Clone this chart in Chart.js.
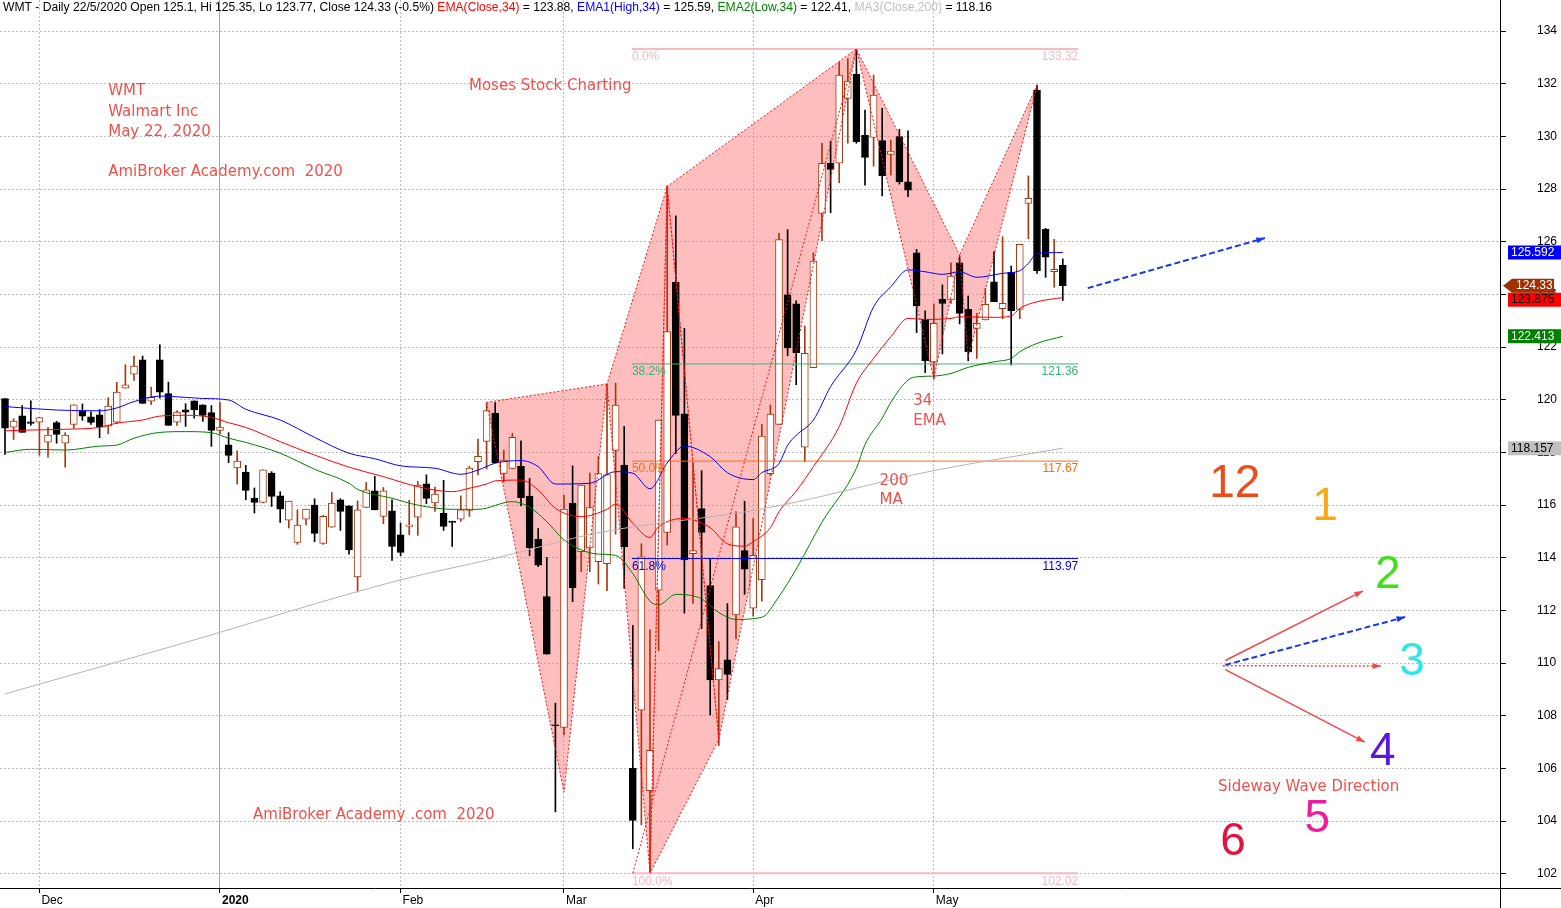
<!DOCTYPE html>
<html>
<head>
<meta charset="utf-8">
<script src="https://cdn.jsdelivr.net/npm/chart.js@4.4.1/dist/chart.umd.min.js"></script>
<style>
  html, body { margin: 0; padding: 0; background: #fff; overflow: hidden; }
</style>
</head>
<body>
<canvas id="wmtChart" width="1561" height="908"></canvas>
<script>
// WMT daily bars, 25 Nov 2019 .. 22 May 2020 (index 0 = first bar)
var opens = [120.04,118.96,119.39,119.16,119.15,118.39,119.13,118.35,119.06,119.58,
  119.35,119.43,119.00,119.15,120.44,120.97,121.52,119.95,121.52,120.23,
  119.15,119.62,119.96,119.81,119.51,118.84,118.29,117.41,117.25,116.27,
  116.10,117.22,116.35,115.43,114.58,115.47,116.00,114.54,115.16,116.20,
  115.97,113.27,115.91,116.54,115.57,115.78,114.87,115.19,115.54,116.81,
  116.08,115.70,115.39,115.47,115.80,117.65,118.42,119.49,117.20,117.39,
  117.47,116.34,114.71,112.53,107.66,107.56,116.08,114.23,114.37,113.85,
  113.78,118.08,117.52,106.00,108.21,105.16,112.77,114.96,124.46,119.47,
  114.16,115.87,112.94,109.36,110.12,111.83,114.27,112.09,113.17,117.19,
  119.06,123.98,123.64,118.20,121.22,127.08,128.98,128.98,131.44,132.37,
  130.05,129.96,129.84,129.32,129.99,128.28,125.58,123.05,121.44,123.81,
  123.79,125.20,123.43,122.71,123.03,124.48,123.46,124.84,123.43,127.46,
  131.76,126.47,124.86,125.10];
var highs = [120.04,119.28,119.78,119.96,119.32,118.94,119.18,118.75,119.81,119.84,
  119.54,119.63,120.08,120.66,121.33,121.66,121.66,120.48,122.09,120.67,
  119.59,119.85,119.96,119.81,119.78,119.89,118.75,118.06,117.51,116.65,
  117.34,117.27,116.51,116.15,115.82,115.85,116.24,115.61,116.48,116.24,
  115.97,116.16,116.86,117.09,116.67,116.20,115.32,116.18,116.90,117.15,
  116.68,116.94,115.39,116.35,117.47,118.51,119.87,119.89,118.09,118.73,
  118.44,117.01,115.11,114.01,108.48,116.38,117.49,116.76,117.22,117.85,
  120.59,120.63,118.99,111.43,114.53,111.26,119.23,128.12,126.98,122.71,
  117.58,117.31,113.95,110.82,112.26,115.75,116.15,115.49,119.06,119.80,
  126.32,126.46,123.76,122.80,125.58,129.74,129.82,132.83,132.96,133.32,
  131.00,132.33,131.07,129.86,130.27,130.21,125.71,123.38,123.64,124.36,
  125.20,125.43,123.94,123.28,124.23,125.62,126.19,125.08,125.90,128.50,
  131.95,126.51,126.09,125.35];
var lows = [117.92,118.49,118.76,119.03,117.89,117.82,118.35,117.44,118.92,119.22,
  119.06,118.56,118.71,119.09,120.44,120.73,119.86,119.82,120.06,119.03,
  119.03,118.99,119.30,119.18,118.23,118.71,117.61,116.80,116.20,115.70,
  116.08,115.95,115.34,115.13,114.51,115.25,114.61,114.51,115.16,115.04,
  114.14,112.70,115.91,115.82,115.29,113.90,114.08,114.87,114.85,116.05,
  115.76,115.04,114.43,115.38,115.57,117.15,117.37,117.61,116.89,117.37,
  115.97,114.08,113.66,110.34,104.35,107.27,112.33,113.47,113.47,113.00,
  112.75,114.90,112.84,102.95,103.86,102.08,110.47,114.48,117.96,111.90,
  112.27,111.31,108.03,106.87,108.61,110.92,112.61,111.79,112.35,117.14,
  119.06,121.67,120.57,117.65,121.22,126.04,127.10,128.24,129.74,129.74,
  128.15,128.87,127.74,128.53,128.19,127.71,122.55,121.03,120.78,121.74,
  123.66,122.88,121.48,121.57,123.03,123.72,123.08,121.32,123.08,126.11,
  124.80,124.65,124.27,123.77];
var closes = [118.92,119.19,118.76,119.10,119.32,118.66,118.68,118.66,119.81,119.38,
  119.14,118.97,119.76,120.29,120.57,121.28,119.86,120.09,120.29,119.03,
  119.53,119.53,119.61,119.41,118.84,118.96,117.89,117.67,116.56,116.10,
  117.34,116.33,115.85,116.15,115.24,115.85,114.92,115.57,116.08,115.76,
  114.30,115.82,116.58,115.82,116.54,114.43,114.20,115.25,116.76,116.25,
  116.42,115.19,115.34,115.82,117.41,117.85,119.59,117.61,117.71,118.57,
  116.28,114.38,113.72,110.34,107.62,115.85,112.86,116.76,115.91,117.20,
  117.16,119.80,114.42,104.03,114.04,106.69,119.23,122.59,119.41,113.92,
  114.27,114.96,109.36,109.79,109.57,115.17,113.57,114.09,118.62,119.46,
  126.08,121.97,121.79,121.76,125.27,128.98,128.75,132.33,132.10,129.80,
  129.20,131.57,128.50,129.44,128.28,127.96,123.56,121.48,122.90,123.66,
  124.70,123.28,121.82,122.90,123.62,123.72,123.66,123.38,125.90,127.65,
  124.90,125.41,124.95,124.33];

// month start bars and their axis labels
var monthIdx = [4, 25, 46, 65, 87, 108];
var monthLabels = ['Dec', '2020', 'Feb', 'Mar', 'Apr', 'May'];

// averages (bar index, value)
var emaHighIdx = [0,6,11,13,15,18,21,23,26,28,32,36,40,43,46,50,53,55,57,60,62,64,68,71,73,75,77,79,82,84,87,88,90,91,92,94,96,99,101,103,105,107,109,111,113,116,118,119,120,123];
var emaHighVals = [119.74,119.61,119.58,119.69,119.93,120.14,120.09,120.05,119.99,119.64,119.23,118.57,117.97,117.76,117.49,117.40,117.17,117.33,117.59,117.69,117.46,116.80,116.83,117.27,117.21,116.62,117.60,118.24,117.84,117.23,116.97,117.23,117.58,118.27,118.65,119.23,120.50,121.89,123.53,124.29,124.93,124.86,124.76,124.86,124.65,124.80,124.90,125.18,125.56,125.59];
var emaCloseIdx = [0,3,7,11,13,16,18,21,24,26,28,32,36,40,44,48,52,54,56,57,60,62,64,67,70,71,73,75,76,79,82,84,86,87,89,90,92,94,97,99,101,103,105,107,110,111,115,117,118,120,123];
var emaCloseVals = [118.82,118.85,118.88,118.95,119.11,119.23,119.38,119.41,119.33,119.13,118.95,118.41,117.90,117.44,117.08,116.70,116.51,116.64,116.80,116.92,116.95,116.57,115.88,115.56,115.84,116.04,115.31,114.77,115.18,115.49,115.14,114.53,114.44,114.61,115.14,115.75,116.53,117.46,118.98,120.63,121.57,122.39,123.09,123.05,123.09,123.15,123.13,123.18,123.47,123.72,123.88];
var emaLowIdx = [0,3,7,11,13,15,18,21,24,26,28,32,36,40,41,45,48,52,55,59,61,63,65,67,69,71,73,75,76,78,81,83,85,88,90,92,95,99,100,102,103,105,106,108,110,112,115,117,118,120,123];
var emaLowVals = [118.00,118.12,118.09,118.24,118.28,118.54,118.76,118.79,118.75,118.54,118.38,117.97,117.36,116.83,116.60,116.26,116.00,115.84,115.84,116.13,115.92,115.37,114.68,114.30,114.14,114.09,113.40,112.35,112.21,112.61,112.44,111.92,111.66,111.74,112.53,113.57,115.35,117.40,118.30,119.30,119.90,120.75,120.87,120.90,121.00,121.23,121.44,121.57,121.82,122.14,122.41];
var ma200Idx = [0, 20, 46, 57, 69, 88, 108, 123];
var ma200Vals = [108.83, 110.69, 113.16, 113.98, 114.95, 115.85, 117.31, 118.16];

// fibonacci retracement
var fibLabels = ['0.0%', '38.2%', '50.0%', '61.8%', '100.0%'];
var fibValues = [133.32, 121.36, 117.67, 113.97, 102.02];
var fibFrom = 72.9, fibTo = 124.8;

// harmonic pattern triangles (bar index / price)
var triIdx = [[56, 65, 70], [70, 75, 77], [75, 77, 83], [77, 83, 99], [99, 108, 111], [111, 112, 120]];
var triVals = [[119.9, 105.1, 120.6], [120.6, 102.02, 128.1], [102.02, 128.1, 107.1], [128.1, 107.1, 133.32], [133.32, 120.8, 125.5], [125.5, 121.6, 131.95]];
var legIdx = [73, 99];
var legVals = [102.02, 133.32];

// last values shown on the price axis
var lastVals = [125.592, 124.33, 123.875, 122.413, 118.157];

var UP = '#a8380f';
var FONT = '"Liberation Sans", Arial, sans-serif';

function pts(idx, vals) {
    return idx.map(function(x, k) { return {x: x, y: vals[k]}; });
}

var wickData = lows.map(function(l, i) { return {x: i, y: [l, highs[i]]}; });
var bodyData = opens.map(function(o, i) { return {x: i, y: [o, closes[i]]}; });
var isUp = closes.map(function(c, i) { return c >= opens[i]; });

var datasets = [];

triIdx.forEach(function(idx, t) {
    var p = pts(idx, triVals[t]);
    p.push(p[0]);
    datasets.push({type: 'line', data: p, fill: 'shape', backgroundColor: 'rgba(255,110,110,0.45)',
        borderWidth: 0, pointRadius: 0, order: 20});
    datasets.push({type: 'line', data: p.slice(), fill: false, borderColor: '#ff1010', borderWidth: 1,
        borderDash: [2, 2], pointRadius: 0, order: 2});
});
datasets.push({type: 'line', data: pts(legIdx, legVals), fill: false, borderColor: '#ff1010',
    borderWidth: 1, borderDash: [2, 2], pointRadius: 0, order: 2});

datasets.push({type: 'bar', data: wickData, grouped: false, barThickness: 1, order: 7,
    backgroundColor: isUp.map(function(u) { return u ? UP : '#000'; })});
datasets.push({type: 'bar', data: bodyData, grouped: false, barThickness: 7, order: 6,
    minBarLength: 1, borderWidth: 1, borderSkipped: false,
    backgroundColor: isUp.map(function(u) { return u ? '#fff' : '#000'; }),
    borderColor: isUp.map(function(u) { return u ? UP : '#000'; })});

var fibColors = ['#f8b8c4', '#3cb371', '#ff6a10', '#0000e0', '#f8b8c4'];
fibValues.forEach(function(v, k) {
    datasets.push({type: 'line', data: [{x: fibFrom, y: v}, {x: fibTo, y: v}], fill: false,
        borderColor: fibColors[k], borderWidth: (k === 0 || k === 4) ? 2 : 1, pointRadius: 0, order: 4});
});

var avgLines = [
    [ma200Idx, ma200Vals, '#b4b4b4'],
    [emaLowIdx, emaLowVals, '#008000'],
    [emaCloseIdx, emaCloseVals, '#ff0000'],
    [emaHighIdx, emaHighVals, '#0000ff']
];
avgLines.forEach(function(a) {
    datasets.push({type: 'line', data: pts(a[0], a[1]), fill: false, borderColor: a[2], borderWidth: 1,
        pointRadius: 0, cubicInterpolationMode: 'monotone', order: 3});
});

var headerParts = [
    ['WMT - Daily 22/5/2020 Open 125.1, Hi 125.35, Lo 123.77, Close 124.33 (-0.5%) ', '#000'],
    ['EMA(Close,34)', '#ff0000'], [' = 123.88, ', '#000'],
    ['EMA1(High,34)', '#0000ff'], [' = 125.59, ', '#000'],
    ['EMA2(Low,34)', '#008000'], [' = 122.41, ', '#000'],
    ['MA3(Close,200)', '#c0c0c0'], [' = 118.16', '#000']
];

var notes = [
    ['WMT', 12, 131.72], ['Walmart Inc', 12, 130.92], ['May 22, 2020', 12, 130.17],
    ['AmiBroker Academy.com  2020', 12, 128.65], ['Moses Stock Charting', 53.95, 131.91],
    ['34', 105.6, 119.95], ['EMA', 105.6, 119.19], ['200', 101.7, 116.92], ['MA', 101.7, 116.19],
    ['AmiBroker Academy .com  2020', 28.84, 104.24], ['Sideway Wave Direction', 141.05, 105.3]
];
var clockNums = [
    ['12', 143.0, 116.8, '#f04a18'], ['1', 153.5, 115.93, '#f8a818'], ['2', 160.8, 113.35, '#40e018'],
    ['3', 163.6, 110.04, '#30e4ec'], ['4', 160.2, 106.63, '#5a18dc'], ['5', 152.6, 104.08, '#ec1c9c'],
    ['6', 142.8, 103.21, '#e41440']
];
var clockArrows = [
    [141.9, 110.1, 157.9, 112.74, '#f04848', 1.5, []],
    [141.9, 109.93, 162.8, 111.75, '#1a3ae0', 2, [6, 3]],
    [141.6, 109.9, 160.0, 109.89, '#f04848', 1.5, [2, 2]],
    [141.9, 109.75, 158.1, 107.0, '#f04848', 1.5, []]
];
var trendArrow = [125.9, 124.24, 146.5, 126.14];

function arrow(ctx, x1, y1, x2, y2, color, w, dash) {
    ctx.save();
    ctx.strokeStyle = color; ctx.fillStyle = color; ctx.lineWidth = w;
    ctx.setLineDash(dash);
    ctx.beginPath(); ctx.moveTo(x1, y1); ctx.lineTo(x2, y2); ctx.stroke();
    ctx.setLineDash([]);
    var a = Math.atan2(y2 - y1, x2 - x1);
    ctx.beginPath();
    ctx.moveTo(x2, y2);
    ctx.lineTo(x2 - 9 * Math.cos(a - 0.35), y2 - 9 * Math.sin(a - 0.35));
    ctx.lineTo(x2 - 9 * Math.cos(a + 0.35), y2 - 9 * Math.sin(a + 0.35));
    ctx.closePath(); ctx.fill();
    ctx.restore();
}

var overlay = {
    id: 'wmtOverlay',
    afterDraw: function(chart) {
        var ctx = chart.ctx, xs = chart.scales.x, ys = chart.scales.y;
        var px = function(i) { return xs.getPixelForValue(i); };
        var py = function(v) { return ys.getPixelForValue(v); };
        ctx.save();

        // axis lines run to the canvas edges
        ctx.strokeStyle = '#000'; ctx.lineWidth = 1;
        ctx.beginPath();
        ctx.moveTo(xs.right + 0.5, ys.bottom); ctx.lineTo(xs.right + 0.5, chart.height);
        ctx.moveTo(xs.right, ys.bottom + 0.5); ctx.lineTo(chart.width, ys.bottom + 0.5);
        ctx.stroke();

        // header
        ctx.font = '12px ' + FONT; ctx.textBaseline = 'middle'; ctx.textAlign = 'left';
        var full = headerParts.map(function(p) { return p[0]; }).join('');
        var sx = 989 / ctx.measureText(full).width;
        ctx.save(); ctx.translate(3, 8); ctx.scale(sx, 1);
        var cx = 0;
        headerParts.forEach(function(p) {
            ctx.fillStyle = p[1]; ctx.fillText(p[0], cx, 0);
            cx += ctx.measureText(p[0]).width;
        });
        ctx.restore();

        // fib labels
        ctx.font = '12px ' + FONT; ctx.textBaseline = 'top';
        fibValues.forEach(function(v, k) {
            var y = py(v) + 2;
            ctx.fillStyle = fibColors[k];
            ctx.textAlign = 'left'; ctx.fillText(fibLabels[k], px(fibFrom), y);
            ctx.textAlign = 'right'; ctx.fillText(v.toFixed(2), px(fibTo), y);
        });

        // notes
        ctx.font = '15px "DejaVu Sans", sans-serif'; ctx.textBaseline = 'middle'; ctx.textAlign = 'left';
        ctx.fillStyle = '#f0504a';
        notes.forEach(function(n) { ctx.fillText(n[0], px(n[1]), py(n[2])); });

        // clock graphic
        ctx.font = '46px ' + FONT; ctx.textAlign = 'center';
        clockNums.forEach(function(n) { ctx.fillStyle = n[3]; ctx.fillText(n[0], px(n[1]), py(n[2])); });
        clockArrows.forEach(function(a) {
            arrow(ctx, px(a[0]), py(a[1]), px(a[2]), py(a[3]), a[4], a[5], a[6]);
        });
        arrow(ctx, px(trendArrow[0]), py(trendArrow[1]), px(trendArrow[2]), py(trendArrow[3]), '#1a3ae0', 2, [6, 3]);

        // last-value boxes on the price axis
        var boxes = [
            [lastVals[0], '#0000ff', '#fff', 3],
            [lastVals[1], '#a03000', '#fff', 2],
            [lastVals[2], '#ff0000', '#000', 3],
            [lastVals[3], '#008000', '#fff', 3],
            [lastVals[4], '#c0c0c0', '#000', 3]
        ];
        ctx.font = '12px ' + FONT; ctx.textAlign = 'left'; ctx.textBaseline = 'middle';
        var prevBottom = -100;
        boxes.forEach(function(b) {
            var y = py(b[0]);
            if (y - 7 < prevBottom) y = prevBottom + 7;
            prevBottom = y + 7;
            var x0 = xs.right + 8;
            ctx.fillStyle = b[1];
            if (b[3] === 2) {
                ctx.beginPath();
                ctx.moveTo(xs.right + 3, y); ctx.lineTo(x0 + 4, y - 7); ctx.lineTo(x0 + 46, y - 7);
                ctx.lineTo(x0 + 46, y + 7); ctx.lineTo(x0 + 4, y + 7); ctx.closePath(); ctx.fill();
                ctx.fillStyle = b[2]; ctx.fillText(b[0].toFixed(2), x0 + 8, y);
            } else {
                ctx.fillRect(x0, y - 7, chart.width - x0, 14);
                ctx.fillStyle = b[2]; ctx.fillText(b[0].toFixed(3), x0 + 3, y);
            }
        });
        ctx.restore();
    }
};

var xMin = -5 / 8.6, xMax = 1495 / 8.6;

new Chart(document.getElementById('wmtChart').getContext('2d'), {
    type: 'bar',
    data: {datasets: datasets},
    options: {
        responsive: false,
        animation: false,
        devicePixelRatio: 1,
        layout: {padding: 0, autoPadding: false},
        plugins: {legend: {display: false}, tooltip: {enabled: false}},
        scales: {
            x: {
                type: 'linear', min: xMin, max: xMax, offset: false,
                afterFit: function(s) { s.height = 20; s.paddingLeft = 0; s.paddingRight = 0; },
                afterBuildTicks: function(s) { s.ticks = monthIdx.map(function(v) { return {value: v}; }); },
                grid: {
                    offset: false, tickLength: 5, tickColor: '#000', tickBorderDash: [],
                    color: function(c) { return c.tick && c.tick.value === 25 ? '#a8a8a8' : '#bdbdbd'; }
                },
                border: {
                    color: '#000', width: 1,
                    dash: function(c) { return c.tick && c.tick.value === 25 ? [] : [2, 2]; }
                },
                ticks: {
                    autoSkip: false, maxRotation: 0, align: 'start', labelOffset: 2, padding: 0, color: '#000',
                    font: function(c) {
                        return {family: FONT, size: 12, weight: c.tick && c.tick.value === 25 ? 'bold' : 'normal'};
                    },
                    callback: function(v) { return monthLabels[monthIdx.indexOf(v)]; }
                }
            },
            y: {
                type: 'linear', position: 'right', min: 101.46, max: 135.18,
                afterFit: function(s) { s.width = 61; s.paddingTop = 0; s.paddingBottom = 0; },
                grid: {color: '#bdbdbd', tickLength: 6, tickColor: '#000', tickBorderDash: []},
                border: {color: '#000', width: 1, dash: [2, 2]},
                ticks: {stepSize: 2, includeBounds: false, maxTicksLimit: 50, padding: 31, color: '#000',
                    crossAlign: 'near', font: {family: FONT, size: 12}}
            }
        }
    },
    plugins: [overlay]
});
</script>
</body>
</html>
